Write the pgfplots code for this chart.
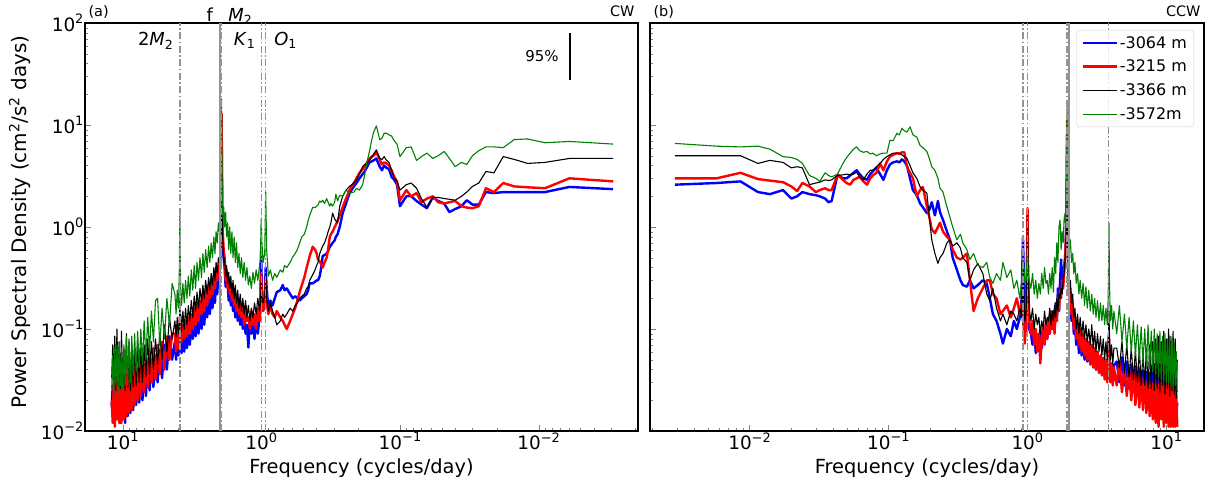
\documentclass[border=0pt]{standalone}
\usepackage{fontspec}
\setmainfont{DejaVu Sans}
\usepackage{pgfplots}
\usepackage{pgfplotstable}
\pgfplotsset{compat=1.18}

% columns: frequency (cpd), then PSD for -3064 m (b), -3215 m (r), -3366 m (k), -3572 m (g)
\pgfplotstableread{
f b r k g
0.0029 2.35 2.8 4.7 6.5
0.006 2.47 3.0 4.7 6.9
0.009 2.2 2.4 4.3 6.7
0.012 2.2 2.45 4.2 7.3
0.015 2.2 2.5 4.6 7.2
0.018 2.2 2.7 4.9 6.0
0.021 2.15 2.2 3.4 6.1
0.024 2.2 2.4 3.5 6.1
0.027 1.66 1.6 2.7 5.6
0.030 1.66 1.53 2.5 5.0
0.033 1.83 1.55 2.2 4.1
0.036 1.6 1.6 2.0 4.3
0.040 1.5 1.8 1.83 3.9
0.044 1.4 1.75 1.87 4.7
0.048 1.7 1.7 1.9 5.5
0.053 1.8 1.75 1.95 5.0
0.058 1.95 2.0 1.95 4.7
0.064 1.53 1.9 1.56 5.3
0.070 1.66 1.75 1.9 4.9
0.076 1.8 2.15 2.4 4.5
0.083 2.0 2.0 2.7 6.1
0.090 2.0 2.3 2.6 6.0
0.100 1.6 1.83 2.3 4.9
0.105 2.6 2.8 2.8 6.5
0.110 2.9 3.1 3.0 7.0
0.115 3.1 3.6 3.6 7.8
0.120 3.7 4.0 4.3 8.0
0.125 3.8 4.2 4.5 8.3
0.130 4.0 4.3 4.9 8.3
0.135 3.6 4.1 4.6 7.4
0.140 3.9 4.6 4.7 7.2
0.148 4.7 5.4 5.7 9.8
0.155 4.5 5.0 5.2 8.5
0.160 4.4 4.9 4.8 7.1
0.166 4.3 4.7 4.5 5.5
0.174 3.8 4.2 4.2 4.2
0.180 3.5 3.9 4.1 3.2
0.186 3.3 3.7 3.9 2.6
0.196 3.0 3.4 3.3 2.3
0.206 2.7 3.0 2.9 2.4
0.215 2.5 2.7 2.7 2.2
0.231 2.15 2.3 2.5 2.15
0.245 1.7 1.9 2.3 2.3
0.259 1.37 1.56 2.0 2.0
0.272 1.0 1.3 1.6 2.05
0.282 0.85 1.15 1.1 1.8
0.290 0.8 1.05 1.15 2.1
0.296 0.74 1.0 1.2 1.75
0.306 0.7 0.9 1.37 1.6
0.315 0.66 0.85 1.1 1.7
0.321 0.64 0.8 1.0 1.6
0.330 0.58 0.6 0.9 1.75
0.338 0.55 0.5 0.8 1.9
0.350 0.53 0.45 0.7 1.7
0.361 0.52 0.4 0.65 1.83
0.370 0.4 0.43 0.6 1.75
0.379 0.33 0.46 0.55 1.8
0.390 0.3 0.48 0.45 1.65
0.399 0.3 0.55 0.42 1.6
0.410 0.29 0.6 0.38 1.55
0.426 0.28 0.64 0.34 1.56
0.448 0.28 0.52 0.3 1.3
0.460 0.24 0.45 0.26 1.15
0.471 0.22 0.4 0.25 1.0
0.490 0.21 0.32 0.22 0.85
0.510 0.2 0.27 0.21 0.8
0.529 0.19 0.23 0.2 0.7
0.550 0.2 0.19 0.18 0.6
0.570 0.21 0.16 0.17 0.55
0.593 0.2 0.14 0.15 0.51
0.620 0.22 0.12 0.16 0.45
0.656 0.25 0.1 0.14 0.4
0.680 0.24 0.11 0.13 0.42
0.700 0.27 0.12 0.14 0.36
0.730 0.24 0.13 0.12 0.38
0.774 0.23 0.15 0.11 0.32
0.800 0.2 0.13 0.13 0.35
0.830 0.17 0.14 0.15 0.3
0.860 0.19 0.17 0.18 0.38
0.890 0.16 0.14 0.15 0.33
0.915 0.25 0.18 0.2 0.6
0.930 0.4 0.3 0.35 2.2
0.945 0.2 0.2 0.22 0.55
0.970 0.15 0.15 0.18 0.45
0.990 0.2 0.18 0.2 0.7
1.003 0.6 0.35 0.3 1.2
1.015 0.2 0.17 0.18 0.5
1.03 0.13 0.12 0.15 0.42
1.06 0.09 0.16 0.2 0.3
1.09 0.12 0.1 0.14 0.38
1.12 0.08 0.14 0.18 0.28
1.15 0.11 0.11 0.13 0.36
1.18 0.09 0.15 0.16 0.25
1.21 0.13 0.1 0.12 0.33
1.24 0.066 0.13 0.17 0.27
1.27 0.11 0.12 0.13 0.4
1.30 0.09 0.17 0.19 0.3
1.33 0.14 0.11 0.14 0.45
1.36 0.1 0.16 0.2 0.32
1.39 0.15 0.13 0.15 0.5
1.42 0.11 0.18 0.22 0.35
1.45 0.16 0.14 0.16 0.55
1.48 0.12 0.2 0.24 0.4
1.51 0.18 0.15 0.18 0.7
1.54 0.13 0.22 0.27 0.45
1.57 0.2 0.17 0.2 0.8
1.60 0.15 0.25 0.3 0.5
1.63 0.22 0.19 0.22 0.9
1.66 0.17 0.28 0.33 0.55
1.69 0.25 0.22 0.25 1.0
1.72 0.19 0.32 0.36 0.6
1.75 0.28 0.25 0.28 1.1
1.78 0.3 0.38 0.42 0.8
1.81 0.26 0.3 0.33 1.4
1.84 0.4 0.5 0.5 1.0
1.87 0.5 0.6 0.45 1.6
1.89 0.6 0.8 0.7 1.2
1.91 0.9 1.0 0.9 1.5
1.925 4.0 5.0 2.5 6.0
1.935 12.0 13.0 4.0 18.0
1.945 3.0 4.0 2.0 5.0
1.96 0.7 0.8 0.8 1.4
1.98 0.45 0.5 0.6 1.3
2.01 0.3 0.35 0.45 0.9
2.04 0.35 0.42 0.5 1.1
2.08 0.22 0.3 0.35 0.7
2.12 0.3 0.38 0.45 0.9
2.16 0.18 0.25 0.3 0.55
2.2 0.26 0.33 0.4 0.8
2.25 0.16 0.22 0.27 0.5
2.3 0.23 0.3 0.35 0.7
2.35 0.14 0.2 0.24 0.45
2.4 0.2 0.27 0.32 0.65
2.46 0.13 0.17 0.22 0.4
2.52 0.18 0.24 0.3 0.6
2.58 0.11 0.15 0.2 0.36
2.64 0.17 0.22 0.27 0.55
2.7 0.1 0.14 0.18 0.32
2.77 0.15 0.19 0.25 0.5
2.84 0.09 0.12 0.16 0.3
2.91 0.14 0.18 0.23 0.45
2.98 0.085 0.11 0.15 0.25
3.05 0.12 0.16 0.21 0.42
3.12 0.08 0.1 0.13 0.24
3.2 0.11 0.14 0.19 0.38
3.28 0.07 0.09 0.12 0.21
3.36 0.1 0.13 0.17 0.33
3.44 0.065 0.085 0.11 0.2
3.52 0.095 0.12 0.16 0.3
3.6 0.06 0.08 0.1 0.18
3.68 0.09 0.11 0.15 0.28
3.76 0.058 0.075 0.095 0.17
3.82 0.085 0.1 0.14 0.25
3.85 0.08 0.09 0.12 0.6
3.87 0.11 0.13 0.2 1.5
3.9 0.07 0.08 0.11 0.4
3.96 0.055 0.065 0.09 0.16
4.04 0.08 0.1 0.13 0.24
4.12 0.05 0.06 0.085 0.14
4.2 0.075 0.09 0.12 0.22
4.4 0.05 0.09 0.08 0.28
4.6 0.085 0.05 0.13 0.11
4.8 0.04 0.085 0.06 0.2
5.0 0.07 0.04 0.11 0.08
5.2 0.033 0.075 0.05 0.16
5.4 0.062 0.036 0.09 0.07
5.6 0.03 0.07 0.045 0.2
5.8 0.055 0.032 0.08 0.19
6.0 0.027 0.065 0.04 0.075
6.2 0.05 0.03 0.075 0.15
6.4 0.025 0.06 0.036 0.06
6.6 0.048 0.027 0.08 0.13
6.8 0.022 0.055 0.034 0.05
7.0 0.045 0.024 0.07 0.12
7.2 0.02 0.05 0.03 0.045
7.4 0.043 0.022 0.065 0.1
7.6 0.019 0.047 0.03 0.042
7.8 0.04 0.02 0.075 0.095
8.0 0.018 0.043 0.028 0.038
8.2 0.038 0.018 0.065 0.09
8.4 0.016 0.045 0.027 0.035
8.6 0.036 0.016 0.07 0.085
8.8 0.015 0.04 0.025 0.03
9.0 0.042 0.015 0.075 0.08
9.2 0.014 0.037 0.027 0.028
9.4 0.034 0.014 0.09 0.085
9.6 0.012 0.042 0.025 0.027
9.8 0.032 0.013 0.065 0.07
10.0 0.013 0.035 0.029 0.026
10.2 0.037 0.012 0.095 0.065
10.4 0.012 0.038 0.026 0.028
10.6 0.032 0.012 0.075 0.075
10.8 0.014 0.032 0.028 0.024
11.0 0.03 0.013 0.1 0.07
11.2 0.013 0.034 0.025 0.028
11.4 0.035 0.011 0.085 0.065
11.6 0.015 0.03 0.028 0.021
11.8 0.028 0.012 0.07 0.055
12.0 0.017 0.02 0.033 0.026
}\cwdata

\pgfplotstableread{
f b r k g
0.0029 2.6 3.0 5.0 6.6
0.0058 2.7 3.0 5.0 6.2
0.0086 2.8 3.4 5.0 6.1
0.0115 2.2 2.95 4.2 6.2
0.014 2.1 2.85 4.5 5.8
0.0174 2.3 2.75 4.3 4.9
0.020 1.9 2.5 3.8 4.8
0.022 2.0 2.25 3.9 4.6
0.024 2.2 2.7 3.8 4.2
0.027 2.1 2.5 2.6 3.2
0.030 2.05 2.2 2.7 3.0
0.032 2.0 2.3 2.75 2.8
0.035 1.9 2.4 2.9 3.4
0.037 1.75 2.3 2.85 3.2
0.039 1.8 2.3 2.9 3.1
0.043 3.25 3.25 3.2 3.3
0.047 3.0 2.9 3.25 4.2
0.050 3.0 2.7 3.3 4.8
0.053 3.2 2.6 3.25 5.3
0.056 3.4 2.9 3.3 5.8
0.059 3.6 3.0 3.45 6.1
0.062 3.3 3.1 3.1 5.6
0.066 3.0 2.8 2.9 5.4
0.070 2.9 2.6 3.3 5.5
0.074 3.3 3.0 3.6 5.2
0.077 3.5 3.2 3.6 5.3
0.082 3.8 3.4 3.9 5.0
0.087 3.3 4.2 4.2 5.2
0.092 2.9 3.6 4.6 5.3
0.0975 3.6 4.4 4.9 5.3
0.1025 4.1 4.9 5.1 7.1
0.108 4.3 5.1 5.3 7.0
0.115 4.4 5.3 5.3 8.3
0.120 4.3 5.2 5.3 8.0
0.125 4.6 5.4 5.1 9.3
0.130 4.4 5.4 4.9 8.8
0.136 4.0 3.9 4.7 8.5
0.143 3.0 3.4 4.0 9.6
0.150 2.3 3.0 3.4 8.0
0.160 2.05 2.0 3.0 7.6
0.169 1.7 2.3 2.47 6.3
0.177 1.56 2.47 2.3 6.0
0.189 1.37 1.6 2.15 5.5
0.198 1.5 1.2 1.17 4.6
0.205 1.75 0.95 0.75 3.9
0.216 1.3 0.87 0.55 3.6
0.227 1.8 1.0 0.44 3.0
0.235 1.4 1.1 0.5 2.4
0.247 1.17 0.9 0.55 2.2
0.264 0.9 0.8 0.7 1.56
0.277 0.75 0.75 0.75 1.25
0.290 0.5 0.6 0.65 1.0
0.311 0.38 0.5 0.7 0.75
0.330 0.3 0.48 0.62 0.85
0.343 0.27 0.5 0.5 0.7
0.367 0.26 0.55 0.45 0.6
0.386 0.3 0.3 0.3 0.48
0.410 0.25 0.15 0.38 0.55
0.440 0.27 0.2 0.44 0.42
0.478 0.3 0.25 0.35 0.4
0.510 0.28 0.3 0.22 0.45
0.537 0.2 0.3 0.19 0.32
0.565 0.14 0.22 0.25 0.28
0.600 0.12 0.2 0.16 0.35
0.640 0.09 0.14 0.12 0.3
0.667 0.072 0.15 0.14 0.45
0.712 0.1 0.17 0.11 0.32
0.760 0.085 0.13 0.15 0.38
0.800 0.12 0.16 0.14 0.25
0.840 0.1 0.2 0.12 0.3
0.883 0.13 0.14 0.16 0.2
0.910 0.2 0.18 0.13 0.3
0.930 0.8 0.12 0.3 0.5
0.945 0.3 0.1 0.2 0.4
0.960 0.12 0.072 0.12 0.28
0.980 0.1 0.12 0.15 0.3
0.995 0.3 0.6 0.4 0.45
1.003 0.7 1.53 1.45 0.6
1.012 0.25 0.4 0.5 0.35
1.030 0.1 0.12 0.16 0.3
1.06 0.09 0.09 0.12 0.25
1.09 0.07 0.12 0.16 0.35
1.12 0.1 0.07 0.1 0.22
1.15 0.058 0.1 0.14 0.3
1.18 0.085 0.06 0.11 0.2
1.21 0.07 0.09 0.13 0.28
1.24 0.1 0.046 0.09 0.22
1.27 0.065 0.08 0.12 0.35
1.30 0.09 0.1 0.1 0.25
1.33 0.075 0.07 0.15 0.4
1.36 0.11 0.12 0.11 0.28
1.39 0.08 0.08 0.13 0.3
1.42 0.12 0.13 0.12 0.22
1.45 0.09 0.09 0.16 0.35
1.48 0.14 0.15 0.11 0.25
1.51 0.1 0.1 0.15 0.4
1.54 0.15 0.13 0.12 0.23
1.57 0.11 0.09 0.17 0.5
1.60 0.18 0.15 0.13 0.35
1.63 0.12 0.12 0.2 0.7
1.66 0.25 0.2 0.15 0.45
1.69 0.15 0.15 0.22 1.0
1.72 0.3 0.24 0.2 1.17
1.75 0.48 0.2 0.25 0.6
1.78 0.25 0.3 0.22 0.9
1.81 0.3 0.25 0.3 0.7
1.84 0.4 0.35 0.35 1.2
1.87 0.5 0.5 0.5 1.37
1.89 0.7 0.7 0.6 1.0
1.91 1.2 1.0 1.0 2.0
1.925 4.0 5.0 1.8 8.0
1.935 8.0 11.0 2.0 15.0
1.945 3.0 4.0 1.2 6.0
1.96 0.7 0.8 0.5 1.5
1.98 0.3 0.35 0.4 1.0
2.01 0.18 0.2 0.26 0.6
2.04 0.2 0.25 0.3 0.75
2.08 0.12 0.14 0.18 0.45
2.12 0.15 0.18 0.22 0.55
2.16 0.09 0.1 0.13 0.35
2.2 0.11 0.13 0.16 0.45
2.25 0.07 0.08 0.1 0.28
2.3 0.1 0.11 0.14 0.35
2.35 0.058 0.07 0.09 0.22
2.4 0.085 0.1 0.13 0.3
2.46 0.055 0.06 0.085 0.2
2.52 0.08 0.09 0.12 0.28
2.58 0.05 0.055 0.08 0.17
2.64 0.075 0.08 0.11 0.26
2.7 0.048 0.05 0.075 0.16
2.77 0.07 0.075 0.1 0.24
2.84 0.045 0.045 0.07 0.15
2.91 0.065 0.07 0.11 0.22
2.98 0.042 0.042 0.065 0.14
3.05 0.06 0.065 0.095 0.2
3.12 0.04 0.04 0.06 0.13
3.2 0.058 0.06 0.09 0.19
3.28 0.038 0.037 0.06 0.12
3.36 0.055 0.055 0.085 0.18
3.44 0.036 0.035 0.055 0.12
3.52 0.052 0.052 0.08 0.17
3.6 0.035 0.032 0.05 0.11
3.68 0.05 0.05 0.075 0.16
3.76 0.033 0.03 0.05 0.11
3.82 0.05 0.05 0.08 0.2
3.85 0.06 0.06 0.1 0.5
3.87 0.08 0.09 0.15 1.1
3.9 0.045 0.045 0.08 0.3
3.96 0.032 0.03 0.05 0.12
4.04 0.046 0.045 0.07 0.17
4.12 0.03 0.028 0.045 0.1
4.2 0.044 0.042 0.065 0.15
4.4 0.048 0.028 0.065 0.09
4.6 0.03 0.048 0.042 0.17
4.8 0.053 0.024 0.075 0.075
5.0 0.028 0.043 0.037 0.14
5.2 0.048 0.022 0.07 0.065
5.4 0.026 0.04 0.034 0.13
5.6 0.045 0.02 0.065 0.06
5.8 0.024 0.038 0.032 0.12
6.0 0.043 0.018 0.062 0.055
6.2 0.022 0.036 0.03 0.11
6.4 0.041 0.017 0.065 0.05
6.6 0.02 0.034 0.028 0.105
6.8 0.039 0.016 0.06 0.046
7.0 0.019 0.033 0.028 0.1
7.2 0.038 0.015 0.065 0.044
7.4 0.018 0.032 0.026 0.11
7.6 0.037 0.014 0.07 0.041
7.8 0.017 0.03 0.026 0.095
8.0 0.038 0.013 0.075 0.038
8.2 0.016 0.032 0.025 0.1
8.4 0.036 0.012 0.08 0.036
8.6 0.015 0.029 0.026 0.09
8.8 0.043 0.011 0.085 0.034
9.0 0.015 0.034 0.024 0.095
9.2 0.039 0.013 0.075 0.032
9.4 0.016 0.03 0.028 0.085
9.6 0.048 0.011 0.095 0.031
9.8 0.014 0.027 0.023 0.09
10.0 0.035 0.012 0.08 0.03
10.2 0.015 0.032 0.026 0.08
10.4 0.043 0.011 0.1 0.029
10.6 0.013 0.028 0.022 0.085
10.8 0.033 0.011 0.085 0.028
11.0 0.014 0.03 0.025 0.08
11.2 0.038 0.011 0.095 0.026
11.4 0.012 0.026 0.023 0.075
11.6 0.03 0.011 0.08 0.028
11.8 0.013 0.024 0.021 0.06
12.0 0.019 0.011 0.05 0.024
}\ccwdata

\definecolor{mplgreen}{RGB}{0,128,0}
\newcommand{\tpow}[1]{10\raisebox{0.42em}{\fontsize{13}{13}\selectfont #1}}

% line styles for the four depths and the reference frequencies
\tikzset{
  sA/.style={blue, line width=2.4bp, line join=round},
  sB/.style={red, line width=2.4bp, line join=round},
  sC/.style={black, line width=1.1bp, line join=round},
  sD/.style={mplgreen, line width=1.1bp, line join=round},
  tideln/.style={gray!85, line width=1.2bp, dash pattern=on 7bp off 2.5bp on 1.5bp off 2.5bp},
  inertln/.style={gray!85, line width=1.6bp},
}

\pgfplotsset{
  every axis/.append style={
    xmode=log, ymode=log, scale only axis,
    width=553bp, height=408bp,
    xmin=0.00192, xmax=18.7, ymin=0.01, ymax=100,
    clip=false,
    axis line style={black, line width=1.1bp},
    tick align=inside, tick pos=left,
    major tick length=6bp, minor tick length=3.5bp,
    xtick={0.01,0.1,1,10},
    xticklabels={\tpow{−2},\tpow{−1},\tpow{0},\tpow{1}},
    minor xtick={0.002,0.003,0.004,0.005,0.006,0.007,0.008,0.009,
      0.02,0.03,0.04,0.05,0.06,0.07,0.08,0.09,
      0.2,0.3,0.4,0.5,0.6,0.7,0.8,0.9,2,3,4,5,6,7,8,9},
    ytick={0.01,0.1,1,10,100},
    minor ytick={0.02,0.03,0.04,0.05,0.06,0.07,0.08,0.09,
      0.2,0.3,0.4,0.5,0.6,0.7,0.8,0.9,2,3,4,5,6,7,8,9,
      20,30,40,50,60,70,80,90},
    tick label style={font=\fontsize{18.5}{20}\selectfont},
    xticklabel style={yshift=2bp},
    yticklabel style={xshift=2bp},
  },
}

\begin{document}
\begin{tikzpicture}
\useasboundingbox (0,0) rectangle (1220bp,486bp);

% ---- clockwise spectra ----
\begin{axis}[at={(85bp,55bp)}, anchor=south west, x dir=reverse,
  yticklabels={\tpow{−2},\tpow{−1},\tpow{0},\tpow{1},\tpow{2}}]
  \addplot[sA] table[x=f, y=b] {\cwdata};
  \addplot[sB] table[x=f, y=r] {\cwdata};
  \addplot[sC] table[x=f, y=k] {\cwdata};
  \addplot[sD] table[x=f, y=g] {\cwdata};
  % tidal and inertial frequencies
  \addplot[tideln] coordinates {(3.864,0.01) (3.864,100)};
  \addplot[tideln] coordinates {(1.932,0.01) (1.932,100)};
  \addplot[inertln] coordinates {(1.99,0.01) (1.99,100)};
  \addplot[tideln] coordinates {(1.0027,0.01) (1.0027,100)};
  \addplot[tideln] coordinates {(0.9295,0.01) (0.9295,100)};
  % 95% confidence bar
  \addplot[black, line width=2.2bp] coordinates {(0.00593,27.6) (0.00593,79.8)};
  \node[anchor=base east, font=\fontsize{15}{16}\selectfont] at (axis cs:0.00678,41.5) {95\%};
  \node[anchor=base east, font=\fontsize{18}{20}\selectfont] at (axis cs:4.06,60) {2\textit{M}\textsubscript{2}};
  \node[anchor=base east, font=\fontsize{18}{20}\selectfont] at (axis cs:1.042,60) {\textit{K}\textsubscript{1}};
  \node[anchor=base west, font=\fontsize{18}{20}\selectfont] at (axis cs:0.855,60) {\textit{O}\textsubscript{1}};
  \node[anchor=base, font=\fontsize{18}{20}\selectfont] at (axis cs:2.35,104) {f};
  \node[anchor=base west, font=\fontsize{18}{20}\selectfont] at (axis cs:1.83,104) {\textit{M}\textsubscript{2}};
  \node[anchor=base west, font=\fontsize{14.5}{16}\selectfont, yshift=6bp] at (rel axis cs:0,1) {(a)};
  \node[anchor=base east, font=\fontsize{14.5}{16}\selectfont, yshift=6bp] at (rel axis cs:1,1) {CW};
\end{axis}

% ---- counter-clockwise spectra ----
\begin{axis}[at={(650bp,55bp)}, anchor=south west, width=554bp,
  yticklabels={},
  legend cell align=left,
  legend image post style={xscale=2},
  legend style={at={(rel axis cs:1,1)}, anchor=north east, xshift=-10bp, yshift=-7bp,
    draw=black!20, rounded corners=3bp, fill=white, fill opacity=0.8, text opacity=1,
    font=\fontsize{16}{18}\selectfont, row sep=6.5bp, inner xsep=5bp, inner ysep=4bp}]
  \addplot[sA] table[x=f, y=b] {\ccwdata};
  \addlegendentry{-3064 m}
  \addplot[sB] table[x=f, y=r] {\ccwdata};
  \addlegendentry{-3215 m}
  \addplot[sC] table[x=f, y=k] {\ccwdata};
  \addlegendentry{-3366 m}
  \addplot[sD] table[x=f, y=g] {\ccwdata};
  \addlegendentry{-3572m}
  \addplot[tideln, forget plot] coordinates {(0.9295,0.01) (0.9295,100)};
  \addplot[tideln, forget plot] coordinates {(1.0027,0.01) (1.0027,100)};
  \addplot[inertln, forget plot] coordinates {(1.99,0.01) (1.99,100)};
  \addplot[tideln, forget plot] coordinates {(1.932,0.01) (1.932,100)};
  \addplot[tideln, forget plot] coordinates {(3.864,0.01) (3.864,100)};
  \node[anchor=base west, font=\fontsize{14.5}{16}\selectfont, yshift=6bp] at (rel axis cs:0,1) {(b)};
  \node[anchor=base east, font=\fontsize{14.5}{16}\selectfont, yshift=6bp] at (rel axis cs:1,1) {CCW};
\end{axis}

\node[rotate=90, font=\fontsize{20}{22}\selectfont] at (20bp,264bp)
  {Power Spectral Density (cm\textsuperscript{2}/s\textsuperscript{2} days)};
\node[anchor=base, font=\fontsize{19.5}{22}\selectfont] at (361.5bp,13bp) {Frequency (cycles/day)};
\node[anchor=base, font=\fontsize{19.5}{22}\selectfont] at (927bp,13bp) {Frequency (cycles/day)};
\end{tikzpicture}
\end{document}
